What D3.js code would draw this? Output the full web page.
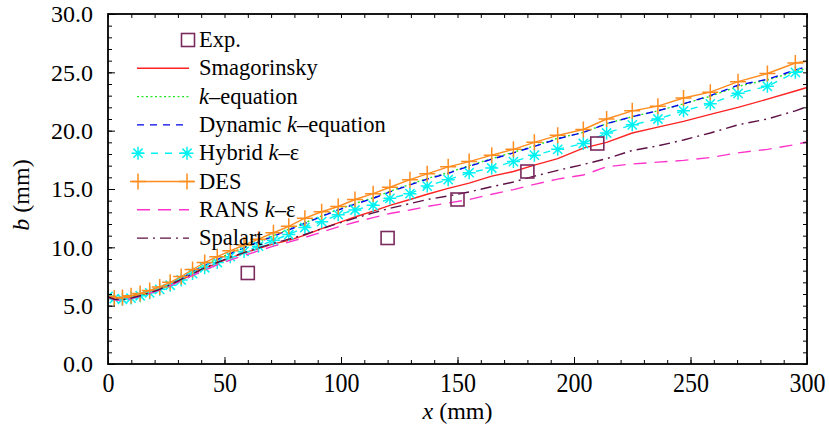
<!DOCTYPE html>
<html>
<head>
<meta charset="utf-8">
<script src="https://cdn.jsdelivr.net/npm/d3@7"></script>
<style>
  html, body { margin: 0; padding: 0; background: #fff; }
  svg { display: block; }
  text { font-family: "Liberation Serif", "Times New Roman", "DejaVu Serif", serif; fill: #000; }
</style>
</head>
<body>
<svg id="chart" width="829" height="437"></svg>
<script>
// Streamwise positions (mm) of the simulation stations
const xStations = [0, 2.7, 6.2, 9.9, 13.8, 17.9, 22.2, 26.7, 31.4, 36.3, 41.5, 46.9, 52.5, 58.4,
  64.6, 71, 77.6, 84.5, 91.7, 98.8, 106, 113.8, 121, 129.6, 137, 146, 155, 164.7, 174, 183,
  193, 204, 214, 225, 236, 247, 258.5, 270.4, 283, 295, 300];

// Half-width b (mm) for each model
const smagorinsky = [5.75, 5.55, 5.55, 5.7, 5.9, 6.1, 6.4, 6.75, 7.2, 7.7, 8.2, 8.65, 9.1, 9.5,
  9.9, 10.3, 10.6, 11.05, 11.6, 12.1, 12.6, 13.1, 13.6, 14.1, 14.55, 15.05, 15.5, 16.1, 16.5, 17.05,
  17.6, 18.5, 19.0, 19.8, 20.3, 20.8, 21.4, 22.0, 22.7, 23.4, 23.7];
const kEquation = [5.75, 5.55, 5.55, 5.7, 5.9, 6.15, 6.5, 6.9, 7.4, 7.95, 8.5, 9.0, 9.5, 10.0,
  10.5, 11.0, 11.55, 12.1, 12.7, 13.25, 13.75, 14.25, 14.8, 15.4, 15.9, 16.4, 17.0, 17.6, 18.15, 18.7,
  19.35, 19.85, 20.6, 21.2, 21.7, 22.3, 22.95, 23.8, 24.35, 25.05, 25.35];
const dynamicKEquation = [5.75, 5.55, 5.55, 5.7, 5.9, 6.15, 6.45, 6.85, 7.35, 7.9, 8.45, 8.95, 9.45, 9.95,
  10.45, 10.95, 11.5, 12.05, 12.65, 13.2, 13.7, 14.2, 14.75, 15.35, 15.85, 16.35, 16.95, 17.55, 18.1, 18.65,
  19.3, 19.85, 20.6, 21.2, 21.7, 22.3, 23.0, 23.9, 24.4, 25.2, 25.5];
const hybridKEps = [5.8, 5.6, 5.55, 5.65, 5.85, 6.1, 6.4, 6.75, 7.2, 7.75, 8.25, 8.7, 9.2, 9.65,
  10.1, 10.6, 11.1, 11.7, 12.2, 12.8, 13.2, 13.6, 14.2, 14.6, 15.25, 15.8, 16.4, 16.8, 17.35, 17.9,
  18.4, 18.9, 19.8, 20.5, 21.0, 21.7, 22.3, 23.2, 23.8, 25.0, 25.15];
const des = [5.8, 5.65, 5.7, 5.85, 6.05, 6.3, 6.6, 7.0, 7.5, 8.1, 8.7, 9.2, 9.7, 10.2,
  10.7, 11.25, 11.8, 12.5, 13.05, 13.5, 14.1, 14.6, 15.15, 15.8, 16.3, 16.9, 17.35, 17.9, 18.4, 19.0,
  19.6, 20.1, 21.0, 21.7, 22.1, 22.8, 23.3, 24.2, 24.9, 25.8, 25.95];
const ransKEps = [5.75, 5.5, 5.45, 5.6, 5.8, 6.05, 6.35, 6.7, 7.15, 7.6, 8.05, 8.5, 8.9, 9.3,
  9.7, 10.1, 10.45, 10.85, 11.3, 11.75, 12.15, 12.55, 12.9, 13.2, 13.5, 13.8, 14.1, 14.55, 14.95, 15.4,
  15.85, 16.2, 16.9, 17.15, 17.3, 17.45, 17.7, 18.1, 18.4, 18.8, 19.05];
const spalart = [5.75, 5.55, 5.5, 5.65, 5.85, 6.1, 6.4, 6.8, 7.25, 7.75, 8.25, 8.7, 9.15, 9.55,
  9.95, 10.35, 10.7, 11.1, 11.6, 12.05, 12.5, 12.95, 13.35, 13.75, 14.1, 14.4, 14.75, 15.2, 15.6, 16.1,
  16.6, 17.1, 17.6, 18.3, 18.7, 19.2, 19.8, 20.5, 21.0, 21.7, 22.05];

// Measurements
const expX = [60, 120, 150, 180, 210];
const expB = [7.8, 10.8, 14.1, 16.5, 18.9];

const xTicks = [0, 50, 100, 150, 200, 250, 300];
const yTicks = [0, 5, 10, 15, 20, 25, 30];

const series = [
  { name: "Smagorinsky", values: smagorinsky, color: "#ff2222", dash: null, marker: null },
  { name: "k-equation", values: kEquation, color: "#22e622", dash: "2,2.5", marker: null },
  { name: "Dynamic k-equation", values: dynamicKEquation, color: "#0000ee", dash: "7,6", marker: null },
  { name: "Hybrid k-eps", values: hybridKEps, color: "#00f2f2", dash: "7,7", marker: "star" },
  { name: "DES", values: des, color: "#ff8c1f", dash: null, marker: "plus" },
  { name: "RANS k-eps", values: ransKEps, color: "#ff33cc", dash: "13,8", marker: null },
  { name: "Spalart", values: spalart, color: "#5c1045", dash: "11,5,2,5", marker: null }
];
const expColor = "#7b2a5e";
const serif = "'Liberation Serif', 'Times New Roman', 'DejaVu Serif', serif";

const svg = d3.select("#chart");
const plotLeft = 108, plotRight = 807, plotTop = 14, plotBottom = 364;
const x = d3.scaleLinear().domain([0, 300]).range([plotLeft, plotRight]);
const y = d3.scaleLinear().domain([0, 30]).range([plotBottom, plotTop]);

svg.append("defs").append("clipPath").attr("id", "plot-clip")
  .append("rect").attr("x", plotLeft).attr("y", plotTop)
  .attr("width", plotRight - plotLeft).attr("height", plotBottom - plotTop);

function plusPath(s) { return `M${-s},0H${s}M0,${-s}V${s}`; }
function starPath(s) {
  const d = s * Math.SQRT1_2;
  return `M${-s},0H${s}M0,${-s}V${s}M${-d},${-d}L${d},${d}M${-d},${d}L${d},${-d}`;
}
function drawMarker(g, kind, cx, cy, color) {
  if (kind === "plus") {
    g.append("path").attr("d", plusPath(8)).attr("transform", `translate(${cx},${cy})`)
      .attr("fill", "none").attr("stroke", color).attr("stroke-width", 1.5);
  } else if (kind === "star") {
    g.append("path").attr("d", starPath(6.5)).attr("transform", `translate(${cx},${cy})`)
      .attr("fill", "none").attr("stroke", color).attr("stroke-width", 1.5);
  }
}

// Series lines and markers
const plot = svg.append("g").attr("clip-path", "url(#plot-clip)");
const line = d3.line().x((d, i) => x(xStations[i])).y(d => y(d));
series.forEach(s => {
  plot.append("path").datum(s.values).attr("d", line)
    .attr("fill", "none").attr("stroke", s.color).attr("stroke-width", 1.4)
    .attr("stroke-dasharray", s.dash);
  if (s.marker) {
    const mg = plot.append("g");
    s.values.forEach((v, i) => {
      if (i < s.values.length - 1) drawMarker(mg, s.marker, x(xStations[i]), y(v), s.color);
    });
  }
});

// Experimental points
svg.append("g").selectAll("rect").data(expX).join("rect")
  .attr("x", (d) => x(d) - 6.5).attr("y", (d, i) => y(expB[i]) - 6.5)
  .attr("width", 13).attr("height", 13)
  .attr("fill", "none").attr("stroke", expColor).attr("stroke-width", 1.6);

// Axes: inward ticks on all four sides
const minorX = d3.range(0, 301, 10), minorY = d3.range(0, 31, 1);
svg.append("g").attr("transform", `translate(0,${plotBottom})`)
  .call(d3.axisBottom(x).tickValues(minorX).tickSize(-4).tickFormat(""))
  .call(g => g.select(".domain").remove());
svg.append("g").attr("transform", `translate(0,${plotTop})`)
  .call(d3.axisTop(x).tickValues(minorX).tickSize(-4).tickFormat(""))
  .call(g => g.select(".domain").remove());
svg.append("g").attr("transform", `translate(${plotLeft},0)`)
  .call(d3.axisLeft(y).tickValues(minorY).tickSize(-4).tickFormat(""))
  .call(g => g.select(".domain").remove());
svg.append("g").attr("transform", `translate(${plotRight},0)`)
  .call(d3.axisRight(y).tickValues(minorY).tickSize(-4).tickFormat(""))
  .call(g => g.select(".domain").remove());

const xAxis = svg.append("g").attr("transform", `translate(0,${plotBottom})`)
  .attr("font-family", serif)
  .call(d3.axisBottom(x).tickValues(xTicks).tickSize(-7).tickPadding(0).tickFormat(d3.format("d")))
  .call(g => g.select(".domain").remove());
xAxis.attr("font-family", serif);
xAxis.selectAll(".tick text")
  .attr("font-size", 24).attr("y", 0).attr("dy", null)
  .attr("transform", "translate(0,28) scale(1,1.17)");

const yAxis = svg.append("g").attr("transform", `translate(${plotLeft},0)`)
  .call(d3.axisLeft(y).tickValues(yTicks).tickSize(-7).tickPadding(15).tickFormat(d3.format(".1f")))
  .call(g => g.select(".domain").remove());
yAxis.attr("font-family", serif);
yAxis.selectAll(".tick text").attr("font-size", 24).attr("dy", "0.33em");

svg.selectAll(".tick line").attr("stroke", "#000").attr("stroke-width", 1);

svg.append("rect").attr("x", plotLeft).attr("y", plotTop)
  .attr("width", plotRight - plotLeft).attr("height", plotBottom - plotTop)
  .attr("fill", "none").attr("stroke", "#000").attr("stroke-width", 1.8);

// Axis titles
const xt = svg.append("text").attr("x", (plotLeft + plotRight) / 2).attr("y", 419)
  .attr("text-anchor", "middle").attr("font-size", 24);
xt.append("tspan").attr("font-style", "italic").text("x");
xt.append("tspan").text(" (mm)");

const yt = svg.append("text").attr("transform", `translate(29,${(plotTop + plotBottom) / 2 + 6}) rotate(-90)`)
  .attr("text-anchor", "middle").attr("font-size", 24);
yt.append("tspan").attr("font-style", "italic").text("b");
yt.append("tspan").text(" (mm)");

// Legend
const legendLabels = [
  ["Exp."],
  ["Smagorinsky"],
  [["k", true], "\u2013equation"],
  ["Dynamic ", ["k", true], "\u2013equation"],
  ["Hybrid ", ["k", true], "\u2013\u03b5"],
  ["DES"],
  ["RANS ", ["k", true], "\u2013\u03b5"],
  ["Spalart"]
];
const legend = svg.append("g");
const lx0 = 137, lx1 = 189, textX = 199;
legendLabels.forEach((parts, i) => {
  const base = 47 + i * 28.3;
  const ly = base - 7;
  const t = legend.append("text").attr("x", textX).attr("y", base).attr("font-size", 22.5);
  parts.forEach(p => {
    if (Array.isArray(p)) t.append("tspan").attr("font-style", "italic").text(p[0]);
    else t.append("tspan").text(p);
  });
  if (i === 0) {
    legend.append("rect").attr("x", 188 - 6.5).attr("y", ly - 6.5).attr("width", 13).attr("height", 13)
      .attr("fill", "none").attr("stroke", expColor).attr("stroke-width", 1.6);
  } else {
    const s = series[i - 1];
    const ext = s.marker === "plus" ? 5 : 0;
    legend.append("line").attr("x1", lx0 - ext).attr("x2", lx1 + ext).attr("y1", ly).attr("y2", ly)
      .attr("stroke", s.color).attr("stroke-width", 1.4).attr("stroke-dasharray", s.dash);
    if (s.marker) {
      drawMarker(legend, s.marker, lx0 + 1, ly, s.color);
      drawMarker(legend, s.marker, lx1 - 2, ly, s.color);
    }
  }
});
</script>
</body>
</html>
